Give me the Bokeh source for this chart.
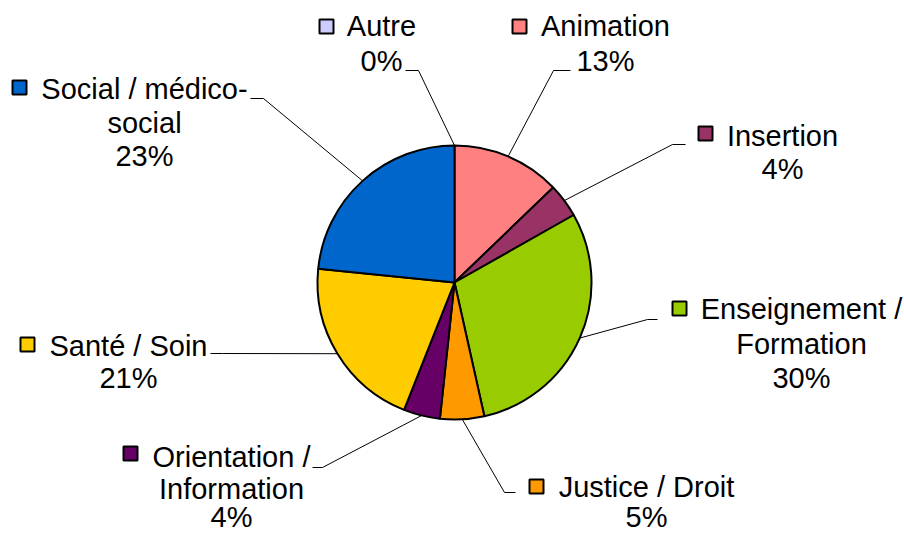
import numpy as np
from bokeh.plotting import figure
from bokeh.models import Range1d, ColumnDataSource
from bokeh.embed import file_html
from bokeh.resources import INLINE
from bokeh.core.properties import value

# ---------------- data ----------------
categories = ["Autre", "Animation", "Insertion", "Enseignement / Formation",
              "Justice / Droit", "Orientation / Information", "Santé / Soin",
              "Social / médico-social"]
values = [0.0, 12.8, 4.0, 29.7, 5.2, 4.3, 20.6, 23.4]
colors = ["#CCCCFF", "#FF8080", "#993366", "#99CC00",
          "#FF9900", "#660066", "#FFCC00", "#0066CC"]

# ---------------- layout (screen pixels) ----------------
W, H = 904, 533
def Y(sy):
    return H - sy

CX, CY, R = 454, 282, 137

# label name lines (wrapping)
name_lines = {
    "Autre": ["Autre"],
    "Animation": ["Animation"],
    "Insertion": ["Insertion"],
    "Enseignement / Formation": ["Enseignement /", "Formation"],
    "Justice / Droit": ["Justice / Droit"],
    "Orientation / Information": ["Orientation /", "Information"],
    "Santé / Soin": ["Santé / Soin"],
    "Social / médico-social": ["Social / médico-", "social"],
}
# text centre x, line cap-centres y, legend square centre, leader start/elbow
label_layout = {
    "Autre": (381, [25, 60], (326, 26), [(405, 70), (418, 70)]),
    "Animation": (605, [25, 60], (519, 26), [(570, 70), (553, 70)]),
    "Insertion": (782, [135, 168], (705, 133), [(685, 144), (672, 144)]),
    "Enseignement / Formation": (801, [308, 343, 377], (679, 308), [(657, 319), (647, 319)]),
    "Justice / Droit": (646, [486, 516], (536, 486), [(515, 492), (504, 492)]),
    "Orientation / Information": (231, [456, 488, 516], (130, 453), [(312, 467), (322, 467)]),
    "Santé / Soin": (128, [345, 377], (27, 344), [(210, 353), (222, 353)]),
    "Social / médico-social": (144, [88, 122, 155], (19, 87), [(250, 98), (263, 98)]),
}

FONT = value("Liberation Sans")
FSIZE = "29px"

# ---------------- figure ----------------
p = figure(width=W, height=H, x_range=Range1d(0, W), y_range=Range1d(0, H),
           output_backend="svg", toolbar_location=None, min_border=0,
           x_axis_location=None, y_axis_location=None, outline_line_color=None)
p.grid.visible = False
p.background_fill_color = "white"
p.border_fill_color = "white"

vals = np.array(values, dtype=float)
frac = vals / vals.sum()
cum = np.concatenate([[0.0], np.cumsum(frac)])
start = np.pi / 2 - 2 * np.pi * cum[1:]
end = np.pi / 2 - 2 * np.pi * cum[:-1]
mid = (cum[:-1] + cum[1:]) / 2 * 2 * np.pi  # clockwise from top

mask = vals > 0
wsrc = ColumnDataSource(dict(start=start[mask], end=end[mask],
                             color=[c for c, m in zip(colors, mask) if m]))
p.wedge(x=CX, y=Y(CY), radius=R, start_angle="start", end_angle="end",
        direction="anticlock", fill_color="color", line_color="black",
        line_width=2, source=wsrc)

# leader lines
lx, ly = [], []
for i, cat in enumerate(categories):
    _, _, _, pts = label_layout[cat]
    ax = CX + R * np.sin(mid[i])
    ay = CY - R * np.cos(mid[i])
    lx.append([pts[0][0], pts[1][0], ax])
    ly.append([Y(pts[0][1]), Y(pts[1][1]), Y(ay)])
p.multi_line(xs=lx, ys=ly, line_color="black", line_width=1)

# legend squares and texts
sqx, sqy, sqc = [], [], []
tx, ty, tt = [], [], []
for i, cat in enumerate(categories):
    cx, cys, sq, _ = label_layout[cat]
    sqx.append(sq[0]); sqy.append(Y(sq[1])); sqc.append(colors[i])
    lines = name_lines[cat] + [f"{int(round(values[i]))}%"]
    for line, cy in zip(lines, cys):
        tx.append(cx); ty.append(Y(cy)); tt.append(line)

p.scatter(x=sqx, y=sqy, marker="square", size=14, fill_color=sqc,
          line_color="black", line_width=2)
p.text(x=tx, y=ty, text=tt, text_font=FONT, text_font_size=FSIZE,
       text_align="center", text_baseline="middle", text_color="black")

open("out.html", "w").write(file_html(p, INLINE))
